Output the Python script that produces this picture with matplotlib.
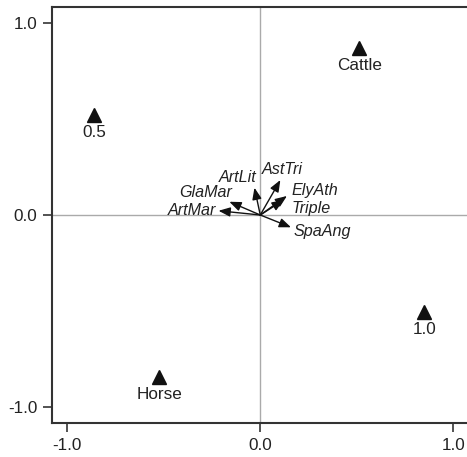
import matplotlib
matplotlib.use("Agg")
import matplotlib.pyplot as plt

# Sample (triangle) scores
site_labels = ["Cattle", "0.5", "1.0", "Horse"]
site_x = [0.513, -0.86, 0.85, -0.523]
site_y = [0.87, 0.52, -0.505, -0.844]

# Species arrows
species = ["ArtMar", "GlaMar", "ArtLit", "AstTri", "ElyAth", "Triple", "SpaAng"]
sp_x = [-0.216, -0.160, -0.030, 0.104, 0.138, 0.121, 0.159]
sp_y = [0.022, 0.069, 0.142, 0.182, 0.099, 0.078, -0.064]

ticks = [-1.0, 0.0, 1.0]
tick_labels = ["-1.0", "0.0", "1.0"]

# label placement (offset points, alignment)
lab_style = {
    "ArtMar": ((-1.5, 0), "right"),
    "GlaMar": ((2, 7), "right"),
    "ArtLit": ((1.7, 7.7), "right"),
    "AstTri": ((-13.2, 7.7), "left"),
    "ElyAth": ((3.6, 4.3), "left"),
    "Triple": ((6, -5.8), "left"),
    "SpaAng": ((1.7, -2.7), "left"),
}

plt.rcParams['font.family'] = ['Liberation Sans', 'DejaVu Sans']
txt_col = "#222222"

fig = plt.figure(figsize=(4.67, 4.57), dpi=100)
ax = fig.add_axes([52/467, 34/457, 1 - 52/467 + 0.002, 416/457])
ax.set_xlim(-1.078, 1.075)
ax.set_ylim(-1.083, 1.083)

ax.axhline(0, color="#aaaaaa", lw=1, zorder=0)
ax.axvline(0, color="#aaaaaa", lw=1, zorder=0)

for s in ["left", "top", "bottom"]:
    ax.spines[s].set_color("#333333")
    ax.spines[s].set_linewidth(1.5)
ax.spines["right"].set_visible(False)

ax.set_xticks(ticks)
ax.set_xticklabels(tick_labels)
ax.set_yticks(ticks)
ax.set_yticklabels(tick_labels)
ax.tick_params(length=6.5, width=1.3, color="#444444", labelsize=12.3,
               labelcolor=txt_col, pad=4)

ax.plot(site_x, site_y, linestyle="none", marker="^", ms=10.5,
        color="#111111", zorder=3)
for lab, x, y in zip(site_labels, site_x, site_y):
    ax.annotate(lab, (x, y), xytext=(0, -12.5), textcoords="offset points",
                ha="center", va="center", fontsize=12.3, color=txt_col)

for name, x, y in zip(species, sp_x, sp_y):
    ax.annotate("", xy=(x, y), xytext=(0, 0),
                arrowprops=dict(arrowstyle="-|>,head_length=0.7,head_width=0.28",
                                color="#111111", lw=1.0, shrinkA=0, shrinkB=0))
    off, ha = lab_style[name]
    ax.annotate(name, (x, y), xytext=off, textcoords="offset points",
                ha=ha, va="center", fontsize=11.6, style="italic", color=txt_col)

fig.savefig("out.png", dpi=100)
